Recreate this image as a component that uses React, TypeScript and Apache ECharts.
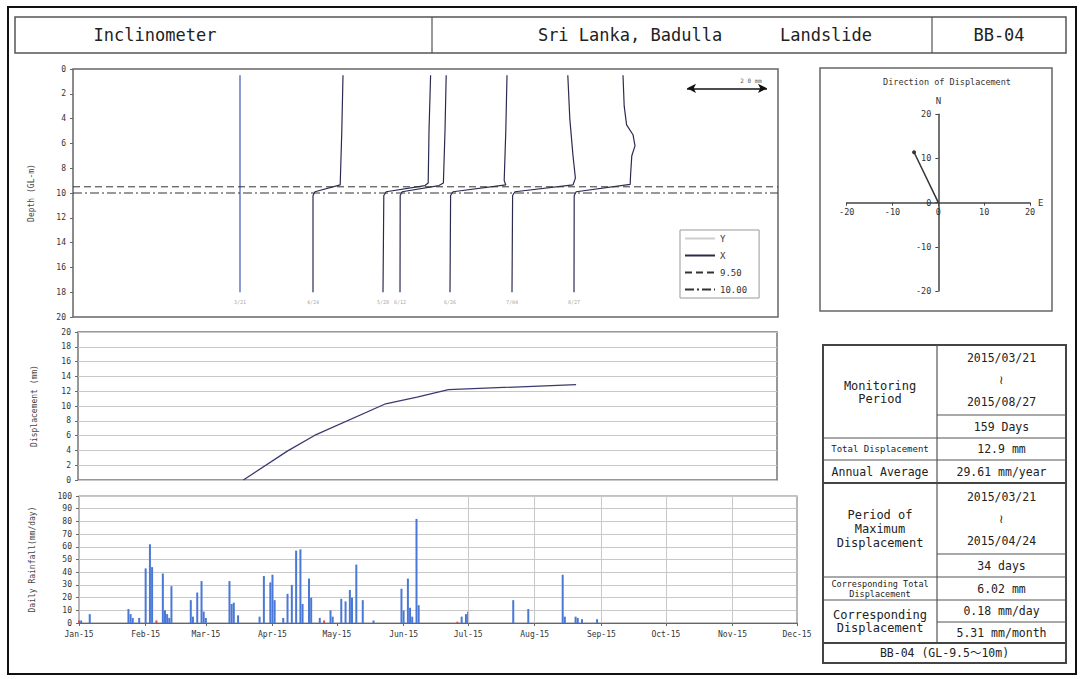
import React, { useEffect, useRef } from 'react';
import * as echarts from 'echarts';

const FONT = "'DejaVu Sans Mono', 'Noto Sans CJK JP', monospace";

// ---------- header ----------
const headerTitles = ['Inclinometer', 'Sri Lanka, Badulla', 'Landslide', 'BB-04'];

// ---------- inclinometer profiles: [x (mm, plotted with offset), depth GL-m] ----------
const profileDates = ['3/21', '4/24', '5/28', '6/12', '6/26', '7/04', '8/27'];
const profile0321 = [[41.75, 0.5], [41.75, 18]];
const profile0424 = [[67.5, 0.5], [67.2, 5], [66.8, 9.35], [60.5, 9.9], [60.0, 10.2], [60.0, 18]];
const profile0528 = [[89.4, 0.5], [89.0, 5], [88.8, 9.2], [88.0, 9.4], [78.3, 9.9], [77.7, 10.2], [77.5, 18]];
const profile0612 = [[93.3, 0.5], [93.0, 5], [92.6, 9.2], [91.5, 9.4], [82.3, 9.9], [81.8, 10.2], [81.75, 18]];
const profile0626 = [[108.5, 0.5], [108.2, 5], [107.8, 9.0], [108.2, 9.35], [95.0, 9.9], [94.4, 10.2], [94.25, 18]];
const profile0704 = [[123.7, 0.5], [124.2, 4], [125.0, 7], [125.6, 8.8], [125.0, 9.35], [110.5, 9.9], [109.9, 10.2], [109.75, 18]];
const profile0827 = [[137.5, 0.5], [137.8, 3], [138.4, 4.5], [140.0, 5.3], [140.5, 6.2], [139.7, 7.0], [139.4, 8.5], [139.3, 9.3], [125.8, 9.9], [125.3, 10.2], [125.25, 18]];
const profiles = [profile0321, profile0424, profile0528, profile0612, profile0626, profile0704, profile0827];
const legendNames = ['Y', 'X', '9.50', '10.00'];
const slipDepths = [9.5, 10.0];
const scaleBarStart = 153.5;
const scaleBarLength = 20;
const scaleBarDepth = 1.56;
const profileXMax = 176.25;

// ---------- displacement time series ----------
const dispDates = ['2015-03-21', '2015-04-11', '2015-04-24', '2015-05-28', '2015-06-12', '2015-06-27', '2015-08-27'];
const dispValues = [0, 3.9, 6.02, 10.3, 11.2, 12.2, 12.9];

// ---------- daily rainfall ----------
const rainDates = [
  '2015-01-02', '2015-01-06', '2015-01-24', '2015-01-25', '2015-01-26', '2015-01-29',
  '2015-02-01', '2015-02-03', '2015-02-04', '2015-02-09', '2015-02-10', '2015-02-11', '2015-02-12', '2015-02-13',
  '2015-02-22', '2015-02-23', '2015-02-25', '2015-02-27', '2015-02-28',
  '2015-03-01', '2015-03-12', '2015-03-13', '2015-03-14', '2015-03-16', '2015-03-26', '2015-03-28', '2015-03-31',
  '2015-04-01', '2015-04-02', '2015-04-06', '2015-04-08', '2015-04-10', '2015-04-12', '2015-04-14', '2015-04-15',
  '2015-04-18', '2015-04-19', '2015-04-23', '2015-04-28', '2015-04-29',
  '2015-05-03', '2015-05-05', '2015-05-07', '2015-05-08', '2015-05-10', '2015-05-13', '2015-05-18', '2015-05-31',
  '2015-06-01', '2015-06-03', '2015-06-04', '2015-06-05', '2015-06-07', '2015-06-08', '2015-06-28', '2015-06-30',
  '2015-07-01', '2015-07-22', '2015-07-29',
  '2015-08-14', '2015-08-15', '2015-08-20', '2015-08-21', '2015-08-23', '2015-08-30',
];
const rainValues = [
  2, 7, 11, 7, 4, 4,
  43, 62, 44, 39, 10, 7, 4, 29,
  18, 5, 24, 33, 9,
  4, 33, 15, 16, 6, 5, 37, 32,
  38, 18, 4, 23, 30, 57, 58, 15,
  35, 20, 4, 10, 5,
  19, 17, 26, 20, 46, 18, 2, 27,
  10, 35, 12, 5, 82, 14, 5, 7,
  9, 18, 11,
  38, 5, 5, 4, 3, 3,
];
const rainRedDates = ['2015-01-01', '2015-02-06', '2015-04-25', '2015-06-26'];
const rainRedValues = [2, 2, 2, 1];

const monthLabels = ['Jan-15', 'Feb-15', 'Mar-15', 'Apr-15', 'May-15', 'Jun-15', 'Jul-15', 'Aug-15', 'Sep-15', 'Oct-15', 'Nov-15', 'Dec-15'];
const monthStarts = ['2015-01-01', '2015-02-01', '2015-03-01', '2015-04-01', '2015-05-01', '2015-06-01', '2015-07-01', '2015-08-01', '2015-09-01', '2015-10-01', '2015-11-01', '2015-12-01'];
const rainGridMonths = ['2015-07-01', '2015-08-01', '2015-09-01', '2015-10-01', '2015-11-01'];

// ---------- direction of displacement ----------
const dirEast = [0, -5.3];
const dirNorth = [0, 11.4];

// ---------- table ----------
const monitoringPeriod = ['2015/03/21', '≀', '2015/08/27'];
const monitoringDays = '159 Days';
const totalDisplacement = '12.9 mm';
const annualAverage = '29.61 mm/year';
const maxPeriod = ['2015/03/21', '≀', '2015/04/24'];
const maxDays = '34 days';
const corrTotal = '6.02 mm';
const corrRates = ['0.18 mm/day', '5.31 mm/month'];
const footerText = 'BB-04 (GL-9.5～10m)';

const ts = (s: string) => {
  const [y, m, d] = s.split('-').map(Number);
  return Date.UTC(y, m - 1, d);
};

function txt(x: number, y: number, text: string, size: number, o: any = {}) {
  const align = o.align || 'center';
  return {
    type: 'text', x, y, silent: true, z: 10,
    style: {
      text, fill: o.color || '#222', font: `${o.weight || 'normal'} ${size}px ${FONT}`,
      textAlign: align, textVerticalAlign: 'middle', align, verticalAlign: 'middle',
      lineHeight: o.lh || Math.round(size * 1.15),
    },
  };
}
function ln(x1: number, y1: number, x2: number, y2: number, w = 1.2, c = '#555') {
  return { type: 'line', silent: true, z: 10, shape: { x1, y1, x2, y2 }, style: { stroke: c, lineWidth: w } };
}
function rc(x: number, y: number, w: number, h: number, lw = 1.5, c = '#555') {
  return { type: 'rect', silent: true, z: 10, shape: { x, y, width: w, height: h }, style: { fill: 'none', stroke: c, lineWidth: lw } };
}

function buildOption() {
  const T0 = ts(monthStarts[0]);
  const T1 = ts(monthStarts[monthStarts.length - 1]);
  const monthTs = monthStarts.map(ts);
  const monthFmt = (v: number) => {
    const d = new Date(v);
    return monthLabels[d.getUTCMonth()];
  };

  // direction grid geometry
  const dirGrid = { left: 846.7, top: 114.3, width: 183.3, height: 176.7 };

  // table geometry
  const TL = 823, TR = 1066, TC = 937;
  const cR = (TC + TR) / 2, cL = (TL + TC) / 2;
  const graphic: any[] = [
    rc(8, 7, 1068, 667, 2, '#111'),
    // header
    rc(15, 17, 1051, 36, 1.5, '#555'),
    ln(432, 17, 432, 53, 1.2),
    ln(932, 17, 932, 53, 1.2),
    txt(155, 35, headerTitles[0], 17),
    txt(630, 35, headerTitles[1], 17),
    txt(826, 35, headerTitles[2], 17),
    txt(999, 35, headerTitles[3], 17),
    // direction box
    rc(820, 68, 232, 243, 1.5, '#666'),
    txt(947, 82, 'Direction of Displacement', 8.5, { color: '#333' }),
    // table
    rc(TL, 345, TR - TL, 318, 2, '#444'),
    ln(TC, 345, TC, 643),
    ln(TC, 415, TR, 415),
    ln(TL, 438, TR, 438),
    ln(TL, 460, TR, 460),
    ln(TL, 483, TR, 483, 2, '#444'),
    ln(TC, 554, TR, 554),
    ln(TL, 577, TR, 577),
    ln(TL, 600, TR, 600),
    ln(TC, 622, TR, 622),
    ln(TL, 643, TR, 643, 2, '#444'),
    txt(cL, 392, 'Monitoring\nPeriod', 12, { lh: 13 }),
    txt(cR, 358, monitoringPeriod[0], 11.5),
    txt(cR, 380, monitoringPeriod[1], 11.5),
    txt(cR, 402, monitoringPeriod[2], 11.5),
    txt(cR, 427, monitoringDays, 11.5),
    txt(cL, 449, 'Total Displacement', 9),
    txt(cR, 449, totalDisplacement, 11.5),
    txt(cL, 471.5, 'Annual Average', 11.5),
    txt(cR, 471.5, annualAverage, 11.5),
    txt(cL, 529, 'Period of\nMaximum\nDisplacement', 12, { lh: 14 }),
    txt(cR, 497, maxPeriod[0], 11.5),
    txt(cR, 519, maxPeriod[1], 11.5),
    txt(cR, 541, maxPeriod[2], 11.5),
    txt(cR, 565.5, maxDays, 11.5),
    txt(cL, 588.5, 'Corresponding Total\nDisplacement', 8.5, { lh: 10 }),
    txt(cR, 588.5, corrTotal, 11.5),
    txt(cL, 621.5, 'Corresponding\nDisplacement', 12, { lh: 13 }),
    txt(cR, 611, corrRates[0], 11.5),
    txt(cR, 632.5, corrRates[1], 11.5),
    txt((TL + TR) / 2, 653, footerText, 11.5),
  ];

  const dark = '#2b2b52';
  const blue = '#3f54b8';
  const profileSeries = profiles.map((p, i) => ({
    name: 'X', type: 'line', xAxisIndex: 0, yAxisIndex: 0, data: p, symbol: 'none',
    lineStyle: { color: i === 0 ? blue : dark, width: 1.2 }, itemStyle: { color: i === 0 ? blue : dark },
    silent: true, z: 3,
  }));
  // dark profile first so the legend icon for X is dark
  const orderedProfiles = [...profileSeries.slice(1), profileSeries[0]];

  const labelData = profiles.map((p, i) => [p[p.length - 1][0], 18.8, profileDates[i]]);

  const axisLbl = { fontSize: 8, color: '#333', fontFamily: FONT };

  return {
    animation: false,
    backgroundColor: '#fff',
    textStyle: { fontFamily: FONT },
    graphic,
    legend: {
      data: legendNames,
      left: 680, top: 230, orient: 'vertical',
      itemWidth: 30, itemHeight: 10, itemGap: 8,
      padding: [4, 12, 4, 4],
      borderColor: '#999', borderWidth: 1, backgroundColor: '#fff',
      textStyle: { fontSize: 9, color: '#333', fontFamily: FONT },
      itemStyle: { color: 'rgba(0,0,0,0)', borderColor: 'rgba(0,0,0,0)', borderWidth: 0 },
      selectedMode: false,
    },
    grid: [
      { left: 73, top: 69, width: 705, height: 248, show: true, borderColor: '#666', borderWidth: 1.5, backgroundColor: 'transparent' },
      { left: 78, top: 332, width: 699, height: 148, show: true, borderColor: '#777', borderWidth: 1.5, backgroundColor: 'transparent' },
      { left: 79, top: 496, width: 718, height: 127, show: true, borderColor: '#888', borderWidth: 1.2, backgroundColor: 'transparent' },
      { ...dirGrid, show: false },
    ],
    xAxis: [
      { gridIndex: 0, type: 'value', min: 0, max: profileXMax, show: false },
      { gridIndex: 1, type: 'value', min: T0, max: T1, show: false },
      {
        gridIndex: 2, type: 'value', min: T0, max: T1,
        axisLine: { show: true, lineStyle: { color: '#666' } },
        splitLine: { show: false },
        axisTick: { show: true, customValues: monthTs, length: 3, lineStyle: { color: '#666' } },
        axisLabel: { ...axisLbl, customValues: monthTs, formatter: monthFmt, margin: 7 },
      },
      {
        gridIndex: 3, type: 'value', min: -20, max: 20, interval: 10, position: 'bottom',
        offset: -dirGrid.height / 2,
        axisLine: { onZero: false, lineStyle: { color: '#444', width: 1.5 } },
        axisTick: { show: true, length: 3, lineStyle: { color: '#444' } },
        axisLabel: { ...axisLbl, fontSize: 8.5, margin: 5 },
        splitLine: { show: false },
        name: 'E', nameLocation: 'end', nameGap: 8, nameTextStyle: { fontSize: 9, color: '#333', fontFamily: FONT },
      },
    ],
    yAxis: [
      {
        gridIndex: 0, type: 'value', inverse: true, min: 0, max: 20, interval: 2,
        axisLine: { show: false }, splitLine: { show: false },
        axisTick: { show: true, length: 3, lineStyle: { color: '#666' } },
        axisLabel: { ...axisLbl, margin: 7 },
        name: 'Depth (GL-m)', nameLocation: 'middle', nameRotate: 90, nameGap: 38,
        nameTextStyle: { fontSize: 8, color: '#444', fontFamily: FONT },
      },
      {
        gridIndex: 1, type: 'value', min: 0, max: 20, interval: 2,
        axisLine: { show: false },
        splitLine: { show: true, lineStyle: { color: '#c8c8c8', width: 1 } },
        axisTick: { show: true, length: 3, lineStyle: { color: '#666' } },
        axisLabel: { ...axisLbl, margin: 7 },
        name: 'Displacement (mm)', nameLocation: 'middle', nameRotate: 90, nameGap: 40,
        nameTextStyle: { fontSize: 8, color: '#444', fontFamily: FONT },
      },
      {
        gridIndex: 2, type: 'value', min: 0, max: 100, interval: 10,
        axisLine: { show: false },
        splitLine: { show: true, lineStyle: { color: '#c8c8c8', width: 1 } },
        axisTick: { show: true, length: 3, lineStyle: { color: '#666' } },
        axisLabel: { ...axisLbl, margin: 7 },
        name: 'Daily Rainfall(mm/day)', nameLocation: 'middle', nameRotate: 90, nameGap: 43,
        nameTextStyle: { fontSize: 8, color: '#444', fontFamily: FONT },
      },
      {
        gridIndex: 3, type: 'value', min: -20, max: 20, interval: 10, position: 'left',
        offset: -dirGrid.width / 2,
        axisLine: { onZero: false, lineStyle: { color: '#444', width: 1.5 } },
        axisTick: { show: true, length: 3, lineStyle: { color: '#444' } },
        axisLabel: { ...axisLbl, fontSize: 8.5, margin: 7 },
        splitLine: { show: false },
        name: 'N', nameLocation: 'end', nameGap: 9, nameTextStyle: { fontSize: 9, color: '#333', fontFamily: FONT },
      },
    ],
    series: [
      { name: 'Y', type: 'line', xAxisIndex: 0, yAxisIndex: 0, data: [], symbol: 'none', lineStyle: { color: '#cfcfcf', width: 1 }, itemStyle: { color: '#cfcfcf' } },
      ...orderedProfiles,
      {
        name: '9.50', type: 'line', xAxisIndex: 0, yAxisIndex: 0,
        data: [[0, slipDepths[0]], [profileXMax, slipDepths[0]]], symbol: 'none', silent: true,
        lineStyle: { color: '#333', width: 1, type: [7, 4] }, itemStyle: { color: '#333' },
        markLine: {
          silent: true, symbol: ['arrow', 'arrow'], symbolSize: [7, 9],
          lineStyle: { color: '#111', width: 1.6, type: 'solid' },
          label: { show: true, position: 'insideEndTop', formatter: '2 0 mm', fontSize: 6, color: '#555', fontFamily: FONT },
          data: [[{ coord: [scaleBarStart, scaleBarDepth] }, { coord: [scaleBarStart + scaleBarLength, scaleBarDepth] }]],
        },
      },
      {
        name: '10.00', type: 'line', xAxisIndex: 0, yAxisIndex: 0,
        data: [[0, slipDepths[1]], [profileXMax, slipDepths[1]]], symbol: 'none', silent: true,
        lineStyle: { color: '#333', width: 1, type: [9, 3, 2, 3] }, itemStyle: { color: '#333' },
      },
      {
        type: 'scatter', xAxisIndex: 0, yAxisIndex: 0, data: labelData, symbolSize: 0, silent: true,
        label: { show: true, position: 'inside', formatter: (p: any) => p.value[2], fontSize: 5, color: '#888', fontFamily: FONT },
      },
      {
        name: 'Displacement', type: 'line', xAxisIndex: 1, yAxisIndex: 1,
        data: dispDates.map((d, i) => [ts(d), dispValues[i]]), symbol: 'none', silent: true,
        lineStyle: { color: '#3a3a6e', width: 1.3 },
      },
      {
        name: 'Rainfall', type: 'bar', xAxisIndex: 2, yAxisIndex: 2,
        data: rainDates.map((d, i) => [ts(d), rainValues[i]]), barWidth: 2, barGap: '-100%', silent: true,
        itemStyle: { color: '#4a78d6' },
        markLine: {
          silent: true, symbol: 'none', label: { show: false },
          lineStyle: { color: '#c8c8c8', width: 1, type: 'solid' },
          data: rainGridMonths.map((m) => ({ xAxis: ts(m) })),
        },
      },
      {
        name: 'Rainfall2', type: 'bar', xAxisIndex: 2, yAxisIndex: 2,
        data: rainRedDates.map((d, i) => [ts(d), rainRedValues[i]]), barWidth: 2, barGap: '-100%', silent: true,
        itemStyle: { color: '#d05050' },
      },
      {
        name: 'Direction', type: 'line', xAxisIndex: 3, yAxisIndex: 3,
        data: dirEast.map((e, i) => [e, dirNorth[i]]), silent: true,
        symbol: 'circle', symbolSize: (v: any, p: any) => (p.dataIndex === dirEast.length - 1 ? 4 : 0),
        lineStyle: { color: '#333', width: 1.5 }, itemStyle: { color: '#333' },
      },
    ],
  };
}

export default function App() {
  const ref = useRef<HTMLDivElement>(null);
  useEffect(() => {
    if (!ref.current) return;
    const chart = echarts.init(ref.current, null, { renderer: 'svg' });
    chart.setOption(buildOption() as any);
    return () => chart.dispose();
  }, []);
  return (
    <div
      ref={ref}
      style={{ position: 'absolute', left: 0, top: 0, width: 1082, height: 679, background: '#fff' }}
    />
  );
}
